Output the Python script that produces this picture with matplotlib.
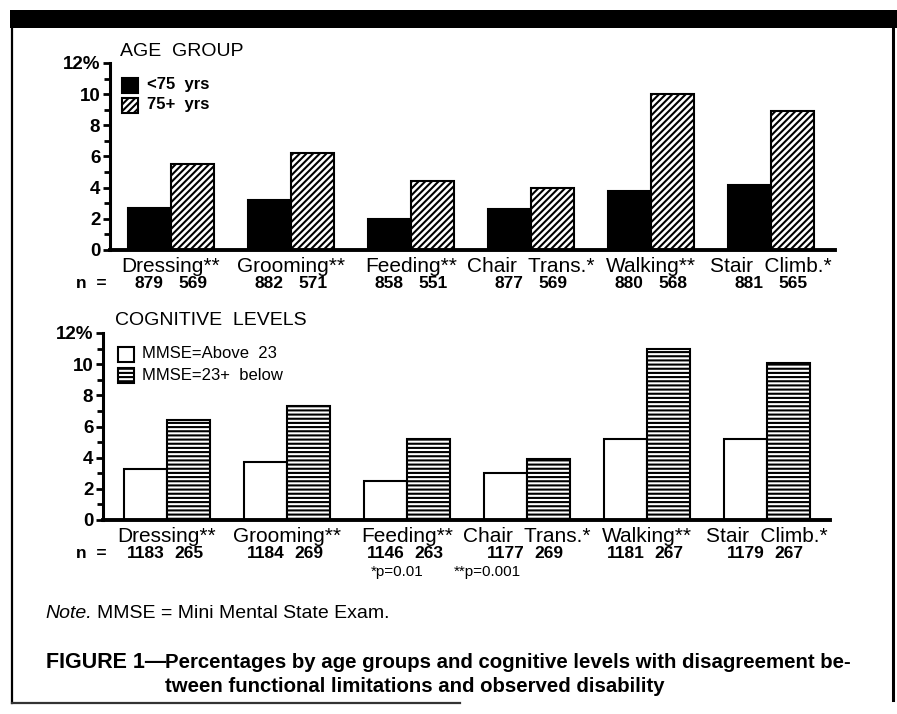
import matplotlib
matplotlib.use("Agg")
import matplotlib.pyplot as plt
import matplotlib.transforms as mtransforms
from matplotlib.patches import Rectangle
from matplotlib.lines import Line2D

plt.rcParams["font.family"] = ["Liberation Sans", "DejaVu Sans"]
plt.rcParams["hatch.color"] = "black"
plt.rcParams["hatch.linewidth"] = 1.5

# data
activities = ["Dressing", "Grooming", "Feeding", "Chair  Trans.", "Walking", "Stair  Climb."]
stars = ["**", "**", "**", "*", "**", "*"]

age_young = [2.7, 3.2, 2.0, 2.6, 3.8, 4.2]      # <75 yrs
age_old = [5.5, 6.2, 4.4, 4.0, 10.0, 8.9]       # 75+ yrs
n_young = [879, 882, 858, 877, 880, 881]
n_old = [569, 571, 551, 569, 568, 565]

mmse_high = [3.3, 3.7, 2.5, 3.0, 5.2, 5.2]      # MMSE above 23
mmse_low = [6.4, 7.3, 5.2, 3.9, 11.0, 10.1]     # MMSE 23 and below
n_high = [1183, 1184, 1146, 1177, 1181, 1179]
n_low = [265, 269, 263, 269, 267, 267]

ytick_labels = ["0", "2", "4", "6", "8", "10", "12%"]

W, H = 897, 714
DIAG = "/////"
HORIZ = "----"


def fx(px):
    return px / W


def fy(py):
    return 1 - py / H


fig = plt.figure(figsize=(W / 100, H / 100), dpi=100)
fig.patch.set_facecolor("white")

# frame round the figure
fig.add_artist(Rectangle((fx(10), fy(28)), fx(887), 18 / H, transform=fig.transFigure,
                         facecolor="black", edgecolor="none"))
fig.add_artist(Line2D([fx(12), fx(12)], [fy(28), fy(703)], color="black", lw=1.6))
fig.add_artist(Line2D([fx(893), fx(893)], [fy(28), fy(700)], color="black", lw=2.2))
fig.add_artist(Line2D([fx(12), fx(460)], [fy(703), fy(703)], color="#333333", lw=1.6))

bw = 0.36


def panel(left, right, y0, y1, xlo, xhi, vals_a, vals_b, style_a, style_b,
          n_a, n_b, label_y, n_y):
    ax = fig.add_axes([fx(left), fy(y0), fx(right) - fx(left), (y0 - y1) / H])
    x = list(range(len(activities)))
    ax.bar([i - bw / 2 for i in x], vals_a, width=bw, linewidth=1.5, edgecolor="black", **style_a)
    ax.bar([i + bw / 2 for i in x], vals_b, width=bw, linewidth=1.5, edgecolor="black", **style_b)
    ax.set_xlim(xlo, xhi)
    ax.set_ylim(0, 12)
    ax.set_xticks([])
    ax.set_yticks(range(0, 13, 2))
    ax.set_yticklabels(ytick_labels, fontweight="bold", fontsize=13.5)
    ax.set_yticks(range(1, 13, 2), minor=True)
    ax.tick_params(axis="y", which="major", length=5, width=2, pad=2)
    ax.tick_params(axis="y", which="minor", length=4, width=2)
    for s in ["top", "right"]:
        ax.spines[s].set_visible(False)
    ax.spines["left"].set_linewidth(2.2)
    ax.spines["bottom"].set_linewidth(2.8)

    tr = mtransforms.blended_transform_factory(ax.transData, fig.transFigure)
    for i in x:
        ax.text(i, fy(label_y), activities[i] + stars[i], transform=tr, ha="center",
                va="center", fontsize=15, clip_on=False)
        ax.text(i - bw / 2, fy(n_y), str(n_a[i]), transform=tr, ha="center", va="center",
                fontsize=12.5, fontweight="bold", clip_on=False)
        ax.text(i + bw / 2, fy(n_y), str(n_b[i]), transform=tr, ha="center", va="center",
                fontsize=12.5, fontweight="bold", clip_on=False)
    fig.text(fx(76), fy(n_y), "n  =", ha="left", va="center", fontsize=12.5, fontweight="bold")
    return ax


ax1 = panel(110, 835, 250, 63, -0.508, 5.533, age_young, age_old,
            dict(facecolor="black"), dict(facecolor="white", hatch=DIAG),
            n_young, n_old, 267, 284)
ax2 = panel(103, 830, 520, 333, -0.533, 5.525, mmse_high, mmse_low,
            dict(facecolor="white"), dict(facecolor="white", hatch=HORIZ),
            n_high, n_low, 536, 553)

# titles and legends
fig.text(fx(120), fy(51), "AGE  GROUP", ha="left", va="center", fontsize=14)
fig.text(fx(115), fy(321), "COGNITIVE  LEVELS", ha="left", va="center", fontsize=14)

legend_items = [
    (122, 78, dict(facecolor="black"), "<75  yrs", 147, 85, "bold"),
    (122, 98, dict(facecolor="white", hatch=DIAG), "75+  yrs", 147, 105, "bold"),
    (118, 347, dict(facecolor="white"), "MMSE=Above  23", 142, 354, "normal"),
    (118, 368, dict(facecolor="white", hatch=HORIZ), "MMSE=23+  below", 142, 375, "normal"),
]
for bx, by, st, txt, tx, ty, wt in legend_items:
    fig.add_artist(Rectangle((fx(bx), fy(by + 15)), fx(16), 15 / H, transform=fig.transFigure,
                             edgecolor="black", linewidth=1.5, **st))
    fig.text(fx(tx), fy(ty), txt, ha="left", va="center", fontsize=12, fontweight=wt)

fig.text(fx(397), fy(572), "*p=0.01", ha="center", va="center", fontsize=11)
fig.text(fx(487), fy(572), "**p=0.001", ha="center", va="center", fontsize=11)

# note and caption
renderer = fig.canvas.get_renderer()
note = fig.text(fx(45), fy(613), "Note.", ha="left", va="center", fontsize=14, style="italic")
nw = note.get_window_extent(renderer).width
fig.text(fx(45) + (nw + 5) / W, fy(613), "MMSE = Mini Mental State Exam.", ha="left",
         va="center", fontsize=14)

fig_lbl = fig.text(fx(166), fy(663), "FIGURE 1\u2014", ha="right", va="center", fontsize=14,
                   fontweight="bold")
wl = fig_lbl.get_window_extent(renderer).width
fig_lbl.set_fontsize(14 * 121 / wl)
line1 = fig.text(fx(165), fy(663), "Percentages by age groups and cognitive levels with disagreement be-",
                 ha="left", va="center", fontsize=15, fontweight="bold")
w1 = line1.get_window_extent(renderer).width
line1.set_fontsize(15 * 690 / w1)
fig.text(fx(165), fy(686), "tween functional limitations and observed disability", ha="left",
         va="center", fontsize=line1.get_fontsize(), fontweight="bold")

fig.savefig("out.png", dpi=100)
